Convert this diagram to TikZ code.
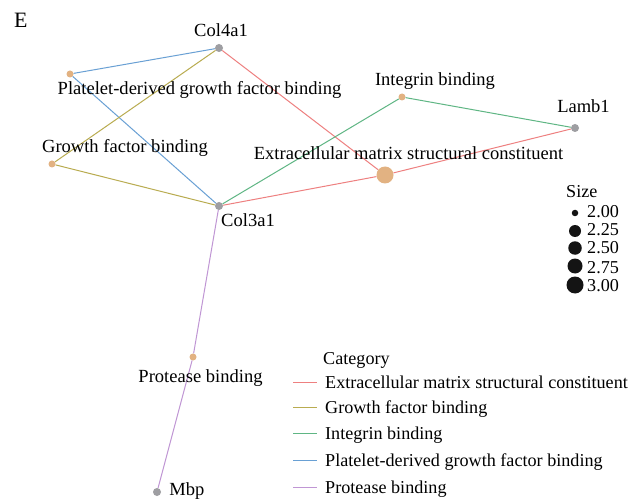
\documentclass[tikz,border=0pt]{standalone}
\usepackage{fontspec}
\setmainfont{Liberation Serif}
\definecolor{cEcm}{RGB}{238,128,128}
\definecolor{cGf}{RGB}{185,172,80}
\definecolor{cInt}{RGB}{95,182,132}
\definecolor{cPdg}{RGB}{105,160,212}
\definecolor{cPro}{RGB}{192,150,212}
\definecolor{cCat}{RGB}{226,178,130}
\definecolor{cGene}{RGB}{158,158,162}
\tikzset{
  lbl/.style={anchor=base, inner sep=0pt, font=\fontsize{18.6}{21}\selectfont},
  leg/.style={anchor=base west, inner sep=0pt, font=\fontsize{18.2}{21}\selectfont},
  gene/.style={circle, fill=cGene, inner sep=0pt, minimum size=8bp},
  cat/.style={circle, fill=cCat, inner sep=0pt, minimum size=7bp},
  edge/.style={line width=1bp},
  dot/.style={circle, fill=black!92, inner sep=0pt},
}
\begin{document}
\begin{tikzpicture}[x=1bp, y=-1bp]
\useasboundingbox[fill=white] (0,0) rectangle (637,501);
% nodes
\node[gene] (col4) at (219,48) {};
\node[gene] (col3) at (219,206) {};
\node[gene] (lamb) at (575,128) {};
\node[gene] (mbp) at (157,492) {};
\node[cat] (pdg) at (70,74) {};
\node[cat] (gf) at (52,164) {};
\node[cat] (int) at (402,97) {};
\node[cat] (pro) at (193,357) {};
\node[cat, minimum size=17bp] (ecm) at (385,175) {};
% edges
\draw[edge, cPdg] (col4) -- (pdg);
\draw[edge, cPdg] (pdg) -- (col3);
\draw[edge, cGf] (col4) -- (gf);
\draw[edge, cGf] (gf) -- (col3);
\draw[edge, cEcm] (col4) -- (ecm);
\draw[edge, cEcm] (col3) -- (ecm);
\draw[edge, cEcm] (ecm) -- (lamb);
\draw[edge, cInt] (col3) -- (int);
\draw[edge, cInt] (int) -- (lamb);
\draw[edge, cPro] (col3) -- (pro);
\draw[edge, cPro] (pro) -- (mbp);
% labels
\node[leg, font=\fontsize{22}{24}\selectfont] (tE) at (14,28) {E};
\node[lbl] (tcol4) at (221,37) {Col4a1};
\node[lbl] (tpdg) at (199.5,95) {Platelet-derived growth factor binding};
\node[lbl] (tgf) at (125,153) {Growth factor binding};
\node[lbl] (tcol3) at (248,227) {Col3a1};
\node[lbl] (tint) at (435,86) {Integrin binding};
\node[lbl] (tlamb) at (583.5,113) {Lamb1};
\node[lbl] (tecm) at (408.5,160) {Extracellular matrix structural constituent};
\node[lbl] (tpro) at (200.5,382) {Protease binding};
\node[lbl] (tmbp) at (187,495) {Mbp};
% size legend
\node[leg] (tsize) at (566,198) {Size};
\node[dot, minimum size=6.5bp] (s1) at (575,213) {};
\node[dot, minimum size=12bp] (s2) at (575,231) {};
\node[dot, minimum size=13.5bp] (s3) at (575,248) {};
\node[dot, minimum size=15bp] (s4) at (575,266) {};
\node[dot, minimum size=17bp] (s5) at (575,285) {};
\node[leg] (v1) at (587,218) {2.00};
\node[leg] (v2) at (587,236) {2.25};
\node[leg] (v3) at (587,254) {2.50};
\node[leg] (v4) at (587,273) {2.75};
\node[leg] (v5) at (587,291) {3.00};
% category legend
\node[leg] (tcat) at (323,364) {Category};
\coordinate (a1) at (293,382); \coordinate (b1) at (317,382);
\coordinate (a2) at (293,407); \coordinate (b2) at (317,407);
\coordinate (a3) at (293,433); \coordinate (b3) at (317,433);
\coordinate (a4) at (293,460); \coordinate (b4) at (317,460);
\coordinate (a5) at (293,487); \coordinate (b5) at (317,487);
\draw[edge, cEcm] (a1) -- (b1);
\draw[edge, cGf] (a2) -- (b2);
\draw[edge, cInt] (a3) -- (b3);
\draw[edge, cPdg] (a4) -- (b4);
\draw[edge, cPro] (a5) -- (b5);
\node[leg] (c1) at (325,388) {Extracellular matrix structural constituent};
\node[leg] (c2) at (325,413) {Growth factor binding};
\node[leg] (c3) at (325,439) {Integrin binding};
\node[leg] (c4) at (325,466) {Platelet-derived growth factor binding};
\node[leg] (c5) at (325,493) {Protease binding};
\end{tikzpicture}
\end{document}
